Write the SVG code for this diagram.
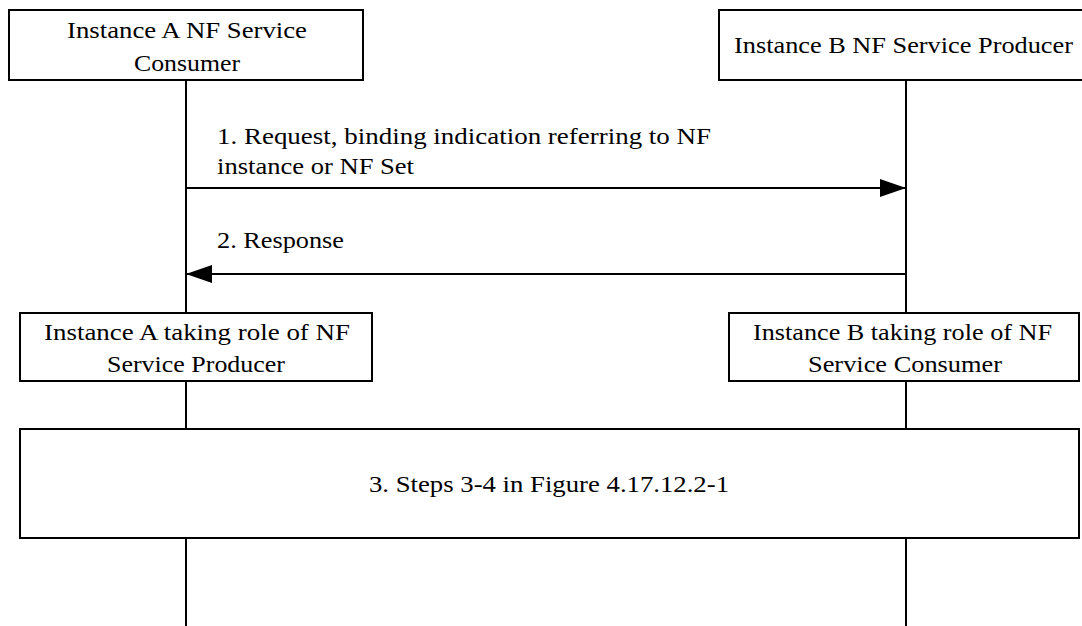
<svg xmlns="http://www.w3.org/2000/svg" width="1082" height="626" viewBox="0 0 1082 626">
<style>
.box{fill:#fff;stroke:#000;stroke-width:2}
.ll{stroke:#000;stroke-width:2;fill:none}
.msg{stroke:#000;stroke-width:2;fill:none}
text{font-family:"Liberation Serif","Times New Roman",serif;font-size:23px;fill:#000}
</style>
<defs>
<marker id="ah" viewBox="0 0 26 18" refX="26" refY="9" markerWidth="26" markerHeight="18" markerUnits="userSpaceOnUse" orient="auto">
<path d="M0,0 L26,9 L0,18 Z" fill="#000"/>
</marker>
</defs>
<g id="connectors">
<line class="ll" x1="186" y1="80" x2="186" y2="313"/>
<line class="ll" x1="186" y1="381" x2="186" y2="429"/>
<line class="ll" x1="186" y1="538" x2="186" y2="626"/>
<line class="ll" x1="906" y1="80" x2="906" y2="313"/>
<line class="ll" x1="906" y1="381" x2="906" y2="429"/>
<line class="ll" x1="906" y1="538" x2="906" y2="626"/>
<line class="msg" x1="186" y1="188" x2="906" y2="188" marker-end="url(#ah)"/>
<line class="msg" x1="906" y1="274" x2="186" y2="274" marker-end="url(#ah)"/>
<text x="217" y="144" textLength="494" lengthAdjust="spacingAndGlyphs">1. Request, binding  indication referring to NF</text>
<text x="217" y="174" textLength="197" lengthAdjust="spacingAndGlyphs">instance or NF Set</text>
<text x="217" y="248" textLength="127" lengthAdjust="spacingAndGlyphs">2. Response</text>
</g>
<g id="nodeA">
<rect class="box" x="9" y="10" width="354" height="70"/>
<text x="67" y="38" textLength="240" lengthAdjust="spacingAndGlyphs">Instance A NF Service</text>
<text x="134" y="71" textLength="106" lengthAdjust="spacingAndGlyphs">Consumer</text>
</g>
<g id="nodeB">
<rect class="box" x="719" y="10" width="380" height="70"/>
<text x="734" y="53" textLength="339" lengthAdjust="spacingAndGlyphs">Instance B NF Service Producer</text>
</g>
<g id="nodeA2">
<rect class="box" x="20" y="313" width="352" height="68"/>
<text x="44" y="340" textLength="306" lengthAdjust="spacingAndGlyphs">Instance A taking role of NF</text>
<text x="107" y="372" textLength="178" lengthAdjust="spacingAndGlyphs">Service Producer</text>
</g>
<g id="nodeB2">
<rect class="box" x="729" y="313" width="350" height="68"/>
<text x="753" y="340" textLength="299" lengthAdjust="spacingAndGlyphs">Instance B taking role of NF</text>
<text x="808" y="372" textLength="194" lengthAdjust="spacingAndGlyphs">Service Consumer</text>
</g>
<g id="step3">
<rect class="box" x="20" y="429" width="1059" height="109"/>
<text x="369" y="492" textLength="360" lengthAdjust="spacingAndGlyphs">3. Steps 3-4 in Figure 4.17.12.2-1</text>
</g>
</svg>
